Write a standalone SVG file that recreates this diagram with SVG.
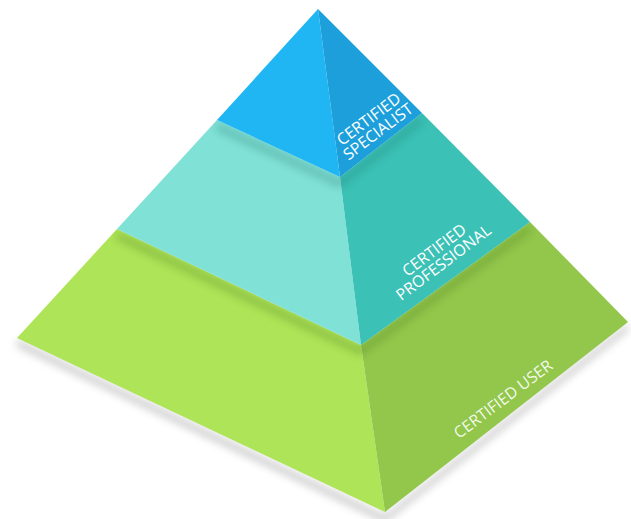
<svg xmlns="http://www.w3.org/2000/svg" width="631" height="519" viewBox="0 0 631 519">
  <defs>
    <filter id="blurBase" x="-20%" y="-20%" width="140%" height="140%">
      <feGaussianBlur stdDeviation="4"/>
    </filter>
    <filter id="blurTier" x="-20%" y="-20%" width="140%" height="140%">
      <feGaussianBlur stdDeviation="4"/>
    </filter>
    <clipPath id="clipMid">
      <polygon points="217,120 117,229 361,345 530,222 422,113 318,9"/>
    </clipPath>
    <clipPath id="clipLow">
      <polygon points="117,229 17,338 385,512 628,322 530,222 318,9"/>
    </clipPath>
    <style>
      .lbl { font-family: "Open Sans", "Liberation Sans", sans-serif; font-size: 16px; fill: #ffffff; text-anchor: middle; }
    </style>
  </defs>
  <rect width="631" height="519" fill="#ffffff"/>

  <!-- base shadow -->
  <polygon points="17,340 385,516 628,324 628,330 385,522 17,346" fill="#8a8a8a" opacity="0.55" filter="url(#blurBase)"/>

  <g id="tier-user">
    <polygon points="117,229 17,338 385,512 361,345" fill="#aee457"/>
    <polygon points="361,345 385,512 628,322 530,222" fill="#92c74b"/>
  </g>
  <!-- shadow of middle tier onto lower tier -->
  <g clip-path="url(#clipLow)">
    <polygon points="117,232 361,348 530,225 530,232 361,355 117,239" fill="#3d6a1a" opacity="0.35" filter="url(#blurTier)"/>
  </g>

  <g id="tier-professional">
    <polygon points="217,120 117,229 361,345 340,177" fill="#80e1d6"/>
    <polygon points="340,177 361,345 530,222 422,113" fill="#3bc1b5"/>
  </g>
  <g clip-path="url(#clipMid)">
    <polygon points="217,123 340,180 422,116 422,123 340,187 217,130" fill="#1b6f68" opacity="0.35" filter="url(#blurTier)"/>
  </g>

  <g id="tier-specialist">
    <polygon points="318,9 217,120 340,177" fill="#20b6f4"/>
    <polygon points="318,9 340,177 422,113" fill="#1c9fda"/>
  </g>

  <g id="labels">
    <g transform="translate(372,123.5) rotate(-37)">
      <text class="lbl" x="0" y="0">CERTIFIED</text>
      <text class="lbl" x="0" y="15.5">SPECIALIST</text>
    </g>
    <g transform="translate(437.5,254.5) rotate(-37)">
      <text class="lbl" x="0" y="0">CERTIFIED</text>
      <text class="lbl" x="0" y="15.5">PROFESSIONAL</text>
    </g>
    <g transform="translate(506.5,403.5) rotate(-37)">
      <text class="lbl" x="0" y="0" fill-opacity="0.9">CERTIFIED USER</text>
    </g>
  </g>
</svg>
